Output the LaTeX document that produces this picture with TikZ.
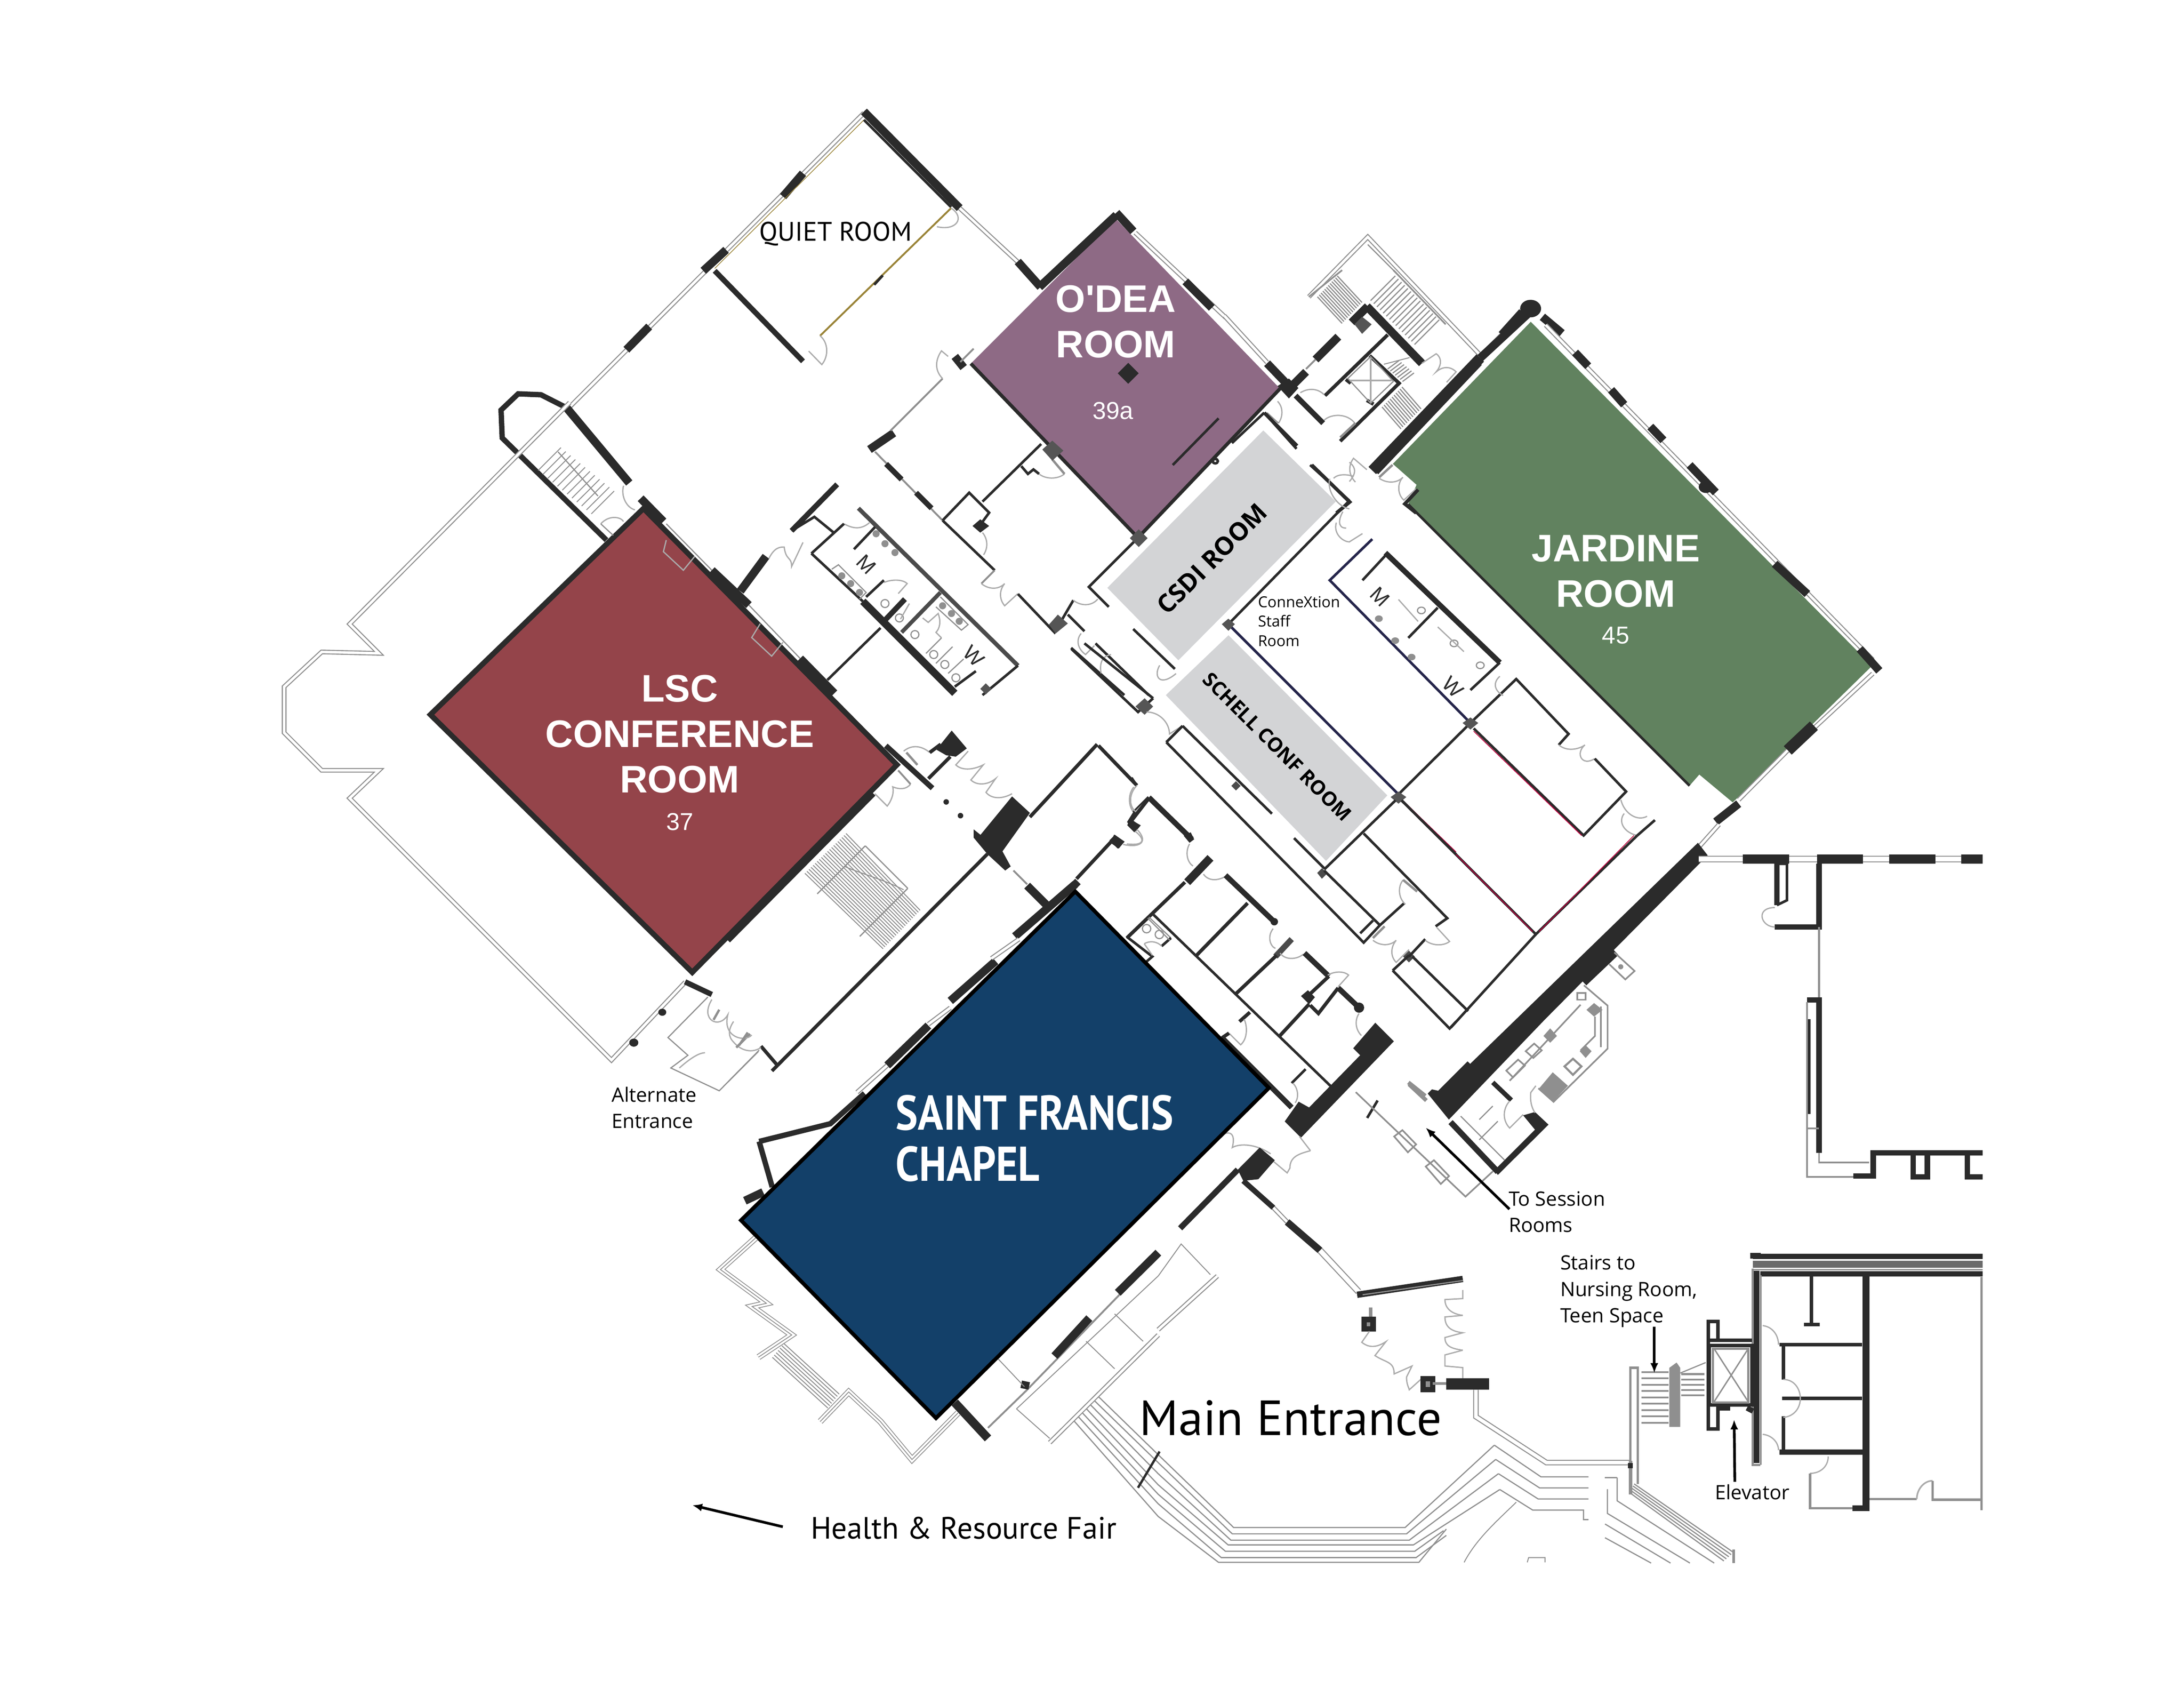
\documentclass[tikz,border=0pt]{standalone}
\usepackage{fontspec}
\setmainfont{Open Sans}
\newfontfamily\roomfont{Liberation Sans}
\newfontfamily\signfont{PT Sans}
\usetikzlibrary{arrows.meta}
\definecolor{walldark}{HTML}{2B2B2B}
\definecolor{linegray}{HTML}{8F8F8F}
\definecolor{doorgray}{HTML}{ABABAB}
\definecolor{lscred}{HTML}{94444A}
\definecolor{odeaplum}{HTML}{8E6A85}
\definecolor{jardinegreen}{HTML}{61825F}
\definecolor{chapelblue}{HTML}{134069}
\definecolor{annexgray}{HTML}{D3D4D6}
\definecolor{quietgold}{HTML}{9A8438}
\tikzset{>={Latex[width=2.4mm,length=3mm]}}
\tikzset{
  wall/.style={draw=walldark, line width=3pt, line join=miter},
  thinwall/.style={draw=walldark, line width=2.2pt, line join=miter},
  heavy/.style={draw=walldark, line width=4.6pt},
  pier/.style={draw=walldark, line width=7pt},
  gline/.style={draw=linegray, line width=1pt},
  fineline/.style={draw=linegray, line width=.8pt},
  door/.style={draw=doorgray, line width=1.1pt},
  glass/.style={draw=linegray, double=white, double distance=2.2pt, line width=.9pt, line join=miter},
  triple/.style={draw=linegray, line width=.7pt, line join=miter, preaction={draw=linegray, line width=5.4pt}, preaction={draw=white, line width=4pt}},
  blob/.style={fill=walldark},
  fixture/.style={draw=linegray, line width=1pt},
  fixfill/.style={fill=linegray!85},
  roomlabel/.style={text=white, font=\roomfont\bfseries\fontsize{33}{39}\selectfont, align=center, inner sep=0pt},
  roomnumber/.style={text=white, font=\roomfont\fontsize{21}{25}\selectfont, inner sep=0pt},
  planlabel/.style={text=black, font=\fontsize{17}{22.7}\selectfont, align=left, inner sep=0pt},
  signlabel/.style={text=black, font=\signfont, inner sep=0pt},
  restlabel/.style={text=walldark, font=\roomfont\fontsize{18}{18}\selectfont, inner sep=0pt, rotate=-45},
  northwing/.style={shift={(190,59.4)}, xscale=.409, yscale=.3333},
  westrooms/.style={shift={(594,249.5)}, scale=.1591},
  eastwing/.style={shift={(712.8,190)}, xscale=.4697, yscale=.394},
  stairtower/.style={shift={(879,154.4)}, scale=.1364},
  lobby/.style={shift={(522.7,475.2)}, scale=.197},
  southrooms/.style={shift={(784,558.3)}, scale=.1667},
  kitchen/.style={shift={(997.8,653.4)}, scale=.1212},
  entrance/.style={shift={(831.5,784)}, xscale=.197, yscale=.2273},
  eastblock/.style={shift={(997.8,594)}, xscale=.288, yscale=.3485},
  liftblock/.style={shift={(1152.3,891)}, xscale=.1742, yscale=.1515},
  chapelsouth/.style={shift={(475.2,855.3)}, xscale=.2273, yscale=.1515},
  chapelwest/.style={shift={(403.9,570.2)}, xscale=.409, yscale=.3638}
}
\begin{document}
\begin{tikzpicture}[x=.42092mm, y=-.42092mm]
    \useasboundingbox (0,0) rectangle (1568,1211.6);

    %Rooms
    \fill[lscred] (462,365) -- (644,549) -- (497,698) -- (309,513) -- cycle;
    \fill[odeaplum] (801,157) -- (919,279) -- (817,386) -- (697,261) -- cycle;
    \fill[jardinegreen] (1099,231) -- (1344,478) -- (1244,576) -- (1220,556) -- (1213,564) -- (1011,362) -- (1017,348) -- (1000,333) -- cycle;
    \draw[heavy] (462,365) -- (309,513) -- (497,698) -- (644,549) -- cycle;
    \draw[wall] (697,261) -- (817,386);
    \draw[wall] (817,386) -- (919,279);
    \draw[thinwall] (1011,362) -- (1213,564);
    \fill[walldark] (810,260.5) -- (817.5,268) -- (810,275.5) -- (802.5,268) -- cycle;
    \draw[glass] (815,167) -- (880,228);
    \draw[pier] (851,202) -- (870,221);

    %North wing and quiet room
    \begin{scope}[northwing]
        \draw[glass] (1052,65) -- (530,705);
        \draw[pier] (1052,62) -- (1220,270);
        \draw[glass] (1220,270) -- (1330,395);
        \draw[pier] (1322,385) -- (1362,440);
        \draw[pier] (1360,440) -- (1495,285);
        \draw[pier] (1495,280) -- (1525,320);
        \draw[pier] (910,245) -- (945,195);
        \draw[pier] (770,405) -- (810,360);
        \draw[pier] (635,575) -- (675,525);
        \draw[heavy] (790,405) -- (945,600);
        \draw[draw=quietgold, line width=.6pt] (1052,80) -- (790,400);
        \draw[thinwall] (1052,80) -- (1205,268);
        \draw[draw=quietgold, line width=1.6pt] (975,545) -- (1205,270);
        \draw[thinwall] (1070,435) -- (1085,415);
        \draw[door] (955,578) -- (978,607) .. controls (990,590) and (990,560) .. (975,545);
        \draw[door] (1205,270) .. controls (1230,290) and (1215,320) .. (1180,310);
        %Stair tower
        \draw[pier] (530,700) -- (640,862);
        \draw[heavy] (530,700) -- (485,672) -- (445,670) -- (415,705) -- (417,765) -- (600,985);
        \foreach \t in {0,...,11}
            \draw[fineline] ({480+\t*8.5},{835+\t*8.5}) -- ({520+\t*8.5},{786+\t*8.5});
        \draw[gline] (515,795) -- (585,890);
        \draw[door] (630,868) .. controls (625,890) and (635,915) .. (650,920);
        \draw[door] (590,950) .. controls (605,930) and (625,935) .. (630,945);
        \draw[gline] (590,950) -- (612,975);
        %Doors along the conference room
        \draw[pier] (660,895) -- (700,945);
        \draw[gline] (705,950) -- (785,1050);
        \draw[door] (705,985) -- (700,1010) -- (735,1050) -- (755,1020);
        \draw[door] (870,1165) -- (855,1195) -- (890,1235) -- (910,1205);
        \draw[pier] (785,1050) -- (850,1125);
        \draw[gline] (850,1125) -- (940,1240);
        \draw[pier] (940,1240) -- (1000,1315);
        \draw[pier] (835,1095) -- (880,1020);
        \draw[door] (885,1025) .. controls (895,1000) and (905,1000) .. (912,1000) .. controls (915,1030) and (925,1020) .. (925,1042) -- (945,990);
        \draw[heavy] (925,965) -- (1005,865);
        \draw[thinwall] (925,965) -- (965,935) -- (1000,970);
    \end{scope}

    %Terrace outline west of the conference room
    \draw[glass] (409,289) -- (251,448) -- (272,469) -- (231,468) -- (204,493) -- (204,526) -- (231,553) -- (272,553) -- (251,573) -- (439,761) -- (492,705);

    %Rooms between the quiet room and the CSDI room
    \begin{scope}[westrooms]
        \draw[pier] (190,460) -- (300,385);
        \draw[gline, line width=1.6pt] (285,375) -- (520,140);
        \draw[door] (520,140) .. controls (480,100) and (490,50) .. (515,15) -- (545,40);
        \draw[pier] (575,40) -- (615,90);
        \draw[gline, line width=1.6pt] (600,65) -- (660,5);
        \draw[gline, line width=1.6pt] (215,470) -- (520,780);
        \draw[heavy] (265,525) -- (335,595);
        \draw[heavy] (400,655) -- (470,725);
        \draw[thinwall] (520,780) -- (640,655) -- (730,745) -- (690,800);
        \draw[thinwall] (700,695) -- (965,435);
        \draw[thinwall] (875,535) -- (905,570) -- (930,550) -- (955,570);
        \draw[door] (955,570) .. controls (985,595) and (1040,595) .. (1070,570);
        \draw[gline, line width=2pt] (1015,505) -- (1070,570);
        \fill[walldark] (690,775) -- (730,805) -- (690,835) -- (655,805) -- cycle;
        \fill[walldark!80] (1015,420) -- (1065,465) -- (1015,510) -- (970,460) -- cycle;
        \draw[door] (700,835) .. controls (725,865) and (725,905) .. (705,935);
        \draw[thinwall] (520,780) -- (755,1005);
        \draw[gline, line width=1.6pt] (755,1005) -- (695,1065);
        \draw[door] (695,1065) .. controls (725,1090) and (770,1095) .. (800,1065) .. controls (775,1095) and (775,1135) .. (800,1165) -- (860,1110);
        \draw[thinwall] (860,1112) -- (1025,1285) -- (1110,1140);
        \fill[walldark!80] (1040,1205) -- (1085,1245) -- (1030,1290) -- (1000,1250) -- cycle;
        \draw[door] (1110,1140) .. controls (1140,1165) and (1190,1170) .. (1220,1135);
        \draw[thinwall] (1270,1170) -- (1180,1080) -- (1400,860);
        \fill[walldark!80] (1405,820) -- (1445,860) -- (1405,900) -- (1365,860) -- cycle;
        \draw[thinwall] (1085,1205) -- (1160,1280);
        \draw[door] (1145,1290) .. controls (1120,1320) and (1130,1360) .. (1165,1385) -- (1205,1345);
        \draw[thinwall] (1100,1355) -- (1340,1568);
        \draw[thinwall] (1210,1335) -- (1450,1568);
        \draw[thinwall] (1380,1270) -- (1568,1450);
        \draw[door] (1235,1470) .. controls (1225,1410) and (1250,1390) .. (1280,1385);
        %Restroom block
        \draw[draw=walldark!85, line width=3.6pt] (140,725) -- (860,1435);
        \draw[thinwall] (860,1435) -- (700,1568);
        \draw[door] (190,790) .. controls (150,825) and (110,815) .. (75,795);
        \draw[thinwall] (-72,929) -- (75,795);
        \draw[thinwall] (215,810) -- (120,910);
        \draw[thinwall] (-72,929) -- (160,1145);
        \draw[draw=walldark, line width=6.4pt] (160,1145) -- (575,1560);
        \draw[thinwall] (175,1125) -- (255,1050);
        \draw[door] (255,1060) .. controls (290,1045) and (340,1045) .. (360,1065) -- (320,1110);
        \draw[heavy] (260,1230) -- (350,1135);
        \draw[draw=walldark!85, line width=3.4pt] (335,1285) -- (510,1105);
        \draw[thinwall] (575,1530) -- (670,1460);
        \draw[thinwall] (240,1265) -- (0,1500);
        \fill[walldark!80] (715,1515) -- (740,1540) -- (715,1565) -- (690,1540) -- cycle;
        \draw[fixture] (20,1000) -- (50,980) -- (175,1105) -- (145,1135);
        \draw[fixture] (510,1125) -- (635,1250) -- (605,1275) -- (490,1170);
        \foreach \cx/\cy in {65/1030, 105/1065, 145/1105, 520/1165, 560/1200, 595/1235, 220/840, 260/885, 305/925}
            \fill[linegray] (\cx,\cy) circle (16);
        \foreach \cx/\cy in {260/1155, 325/1220, 395/1295, 480/1385, 530/1430, 580/1490}
            \draw[fixture] (\cx,\cy) circle (18);
        \draw[door] (430,1220) -- (455,1240) -- (500,1200) .. controls (515,1240) and (505,1270) .. (490,1285) -- (515,1310);
        \draw[gline] (515,1310) -- (445,1380);
        \draw[gline] (565,1350) -- (490,1425);
        \draw[gline] (615,1405) -- (545,1470);
        \draw[door] (370,1155) -- (330,1225);
    \end{scope}

    %Stair tower and elevator north of the Jardine room
    \begin{scope}[stairtower]
        \draw[glass] (445,430) -- (755,115) -- (1345,735);
        \draw[gline] (755,155) -- (915,315);
        \draw[gline, line width=1.4pt] (890,290) -- (1165,575);
        \draw[gline, line width=1.4pt] (445,430) -- (620,290);
        \foreach \t in {0,...,11}
            \draw[fineline, line width=1pt] ({490+\t*9.5},{430-\t*10}) -- ({620+\t*9.5},{570-\t*10});
        \foreach \t in {0,...,14}
            \draw[fineline, line width=1pt] ({770+\t*16.5},{450+\t*16.5}) -- ({900+\t*16.5},{320+\t*16.5});
        \foreach \t in {0,...,10}
            \draw[fineline, line width=1pt] ({830+\t*10.5},{1010-\t*10.5}) -- ({930+\t*10.5},{1125-\t*10.5});
        \foreach \t in {0,...,6}
            \draw[fineline, line width=1pt] ({860+\t*13},{810+\t*11}) -- ({920+\t*13},{765+\t*11});
        \draw[fineline] (840,785) -- (975,750);
        \draw[pier] (750,480) -- (1040,780);
        \draw[pier] (755,480) -- (670,565);
        \fill[walldark!80] (725,535) -- (775,575) -- (725,625) -- (685,575) -- cycle;
        \draw[pier] (600,640) -- (480,760);
        \draw[gline, line width=1.6pt] (480,760) -- (430,810);
        \draw[pier] (430,825) -- (350,905);
        \draw[pier] (225,780) -- (340,900);
        \draw[glass] (0,530) -- (225,775);
        \fill[walldark] (340,860) -- (390,910) -- (340,965) -- (280,900) -- cycle;
        \draw[wall] (860,630) -- (530,950);
        \draw[wall] (765,740) -- (920,885) -- (610,1190);
        \draw[wall] (640,865) -- (665,885);
        \draw[wall] (750,975) -- (785,995);
        \draw[fixture] (650,860) -- (770,745) -- (890,875) -- (770,990) -- cycle;
        \draw[fixture, draw=doorgray, line width=1.5pt] (660,870) -- (880,870);
        \draw[fixture, draw=doorgray, line width=1.5pt] (770,750) -- (770,985);
        \draw[heavy] (375,950) -- (520,1095);
        \draw[door] (400,935) .. controls (440,910) and (490,910) .. (525,945);
        \draw[door] (525,1080) .. controls (560,1045) and (650,1040) .. (690,1100);
        \draw[gline, line width=2pt] (690,1095) -- (610,1170);
        \draw[thinwall] (210,1040) -- (380,1230);
        \draw[thinwall] (40,1200) -- (210,1040);
        \draw[door] (280,980) .. controls (310,1010) and (310,1060) .. (285,1095);
        \draw[gline] (285,1095) -- (225,1040);
        \draw[draw=walldark, line width=9pt] (1335,770) -- (790,1345);
        \draw[glass] (1345,745) -- (1460,630);
        \draw[pier] (1460,630) -- (1568,510);
        \draw[door] (1040,780) -- (1115,730) .. controls (1145,750) and (1145,790) .. (1115,825) .. controls (1150,795) and (1190,795) .. (1220,825) -- (1170,880);
        \draw[door] (750,1340) -- (680,1280) .. controls (650,1320) and (655,1370) .. (690,1405);
        \draw[door] (575,1385) .. controls (600,1360) and (650,1365) .. (680,1375);
        \draw[door] (815,1385) .. controls (850,1410) and (905,1415) .. (940,1380) .. controls (910,1410) and (910,1470) .. (945,1500) -- (1010,1440);
        \draw[gline, line width=2pt] (815,1380) -- (885,1315);
        \draw[wall] (1020,1445) -- (950,1520) -- (1010,1568);
        \draw[wall] (460,1315) -- (660,1510) -- (590,1568);
    \end{scope}

    %East wing rooms
    \begin{scope}[eastwing]
        \fill[walldark] (822,80) circle (16);
        \draw[pier] (822,85) -- (745,170);
        \draw[draw=walldark, line width=9pt] (745,170) -- (580,375);
        \draw[pier] (840,95) -- (870,125);
        \draw[glass] (845,110) -- (1345,720);
        \foreach \xa/\ya/\xb/\yb in {890/160/910/185, 945/228/965/255, 1005/295/1025/320, 1065/365/1105/415, 1195/545/1245/600, 1325/700/1355/740}
            \draw[pier] (\xa,\ya) -- (\xb,\yb);
        \fill[walldark] (1090,405) circle (11);
        \draw[glass] (1345,745) -- (1250,850);
        \draw[draw=walldark, line width=10pt] (1215,885) -- (1255,840);
        \draw[glass] (1215,885) -- (1140,975);
        \draw[pier] (1105,1015) -- (1140,982);
        \draw[glass] (1110,1020) -- (1080,1060);
        %ConneXtion room
        \draw[thinwall] (545,430) -- (360,655);
        \draw[thinwall, draw=walldark!85!blue] (360,655) -- (620,965);
        \draw[thinwall] (620,965) -- (730,835);
        \draw[thinwall, draw=walldark!85!blue] (730,835) -- (515,575) -- (580,500);
        \draw[heavy] (600,525) -- (775,725);
        \draw[thinwall] (565,575) -- (600,530);
        \draw[thinwall] (680,625) -- (635,680);
        \draw[thinwall] (775,725) -- (730,775);
        \draw[door] (525,470) .. controls (520,490) and (535,505) .. (545,505) -- (565,490);
        \foreach \cx/\cy in {590/645, 615/685, 640/715}
            \fill[linegray] (\cx,\cy) circle (6);
        \foreach \cx/\cy in {655/630, 705/690, 745/730}
            \draw[fixture] (\cx,\cy) circle (6);
        \draw[door] (620,610) -- (650,650);
        \draw[door] (680,660) -- (720,705);
        \node[restlabel] (mensroomb) at (592,605) {M};
        \node[restlabel] (womensroomb) at (703,770) {W};
        %East rooms
        \draw[thinwall] (730,835) -- (800,755) -- (880,855) -- (865,875);
        \draw[door] (865,875) .. controls (880,890) and (900,880) .. (905,875) .. controls (890,890) and (900,915) .. (920,900);
        \draw[thinwall] (920,900) -- (968,960) -- (903,1040) -- (735,845);
        \draw[door] (775,750) .. controls (765,760) and (765,775) .. (780,785);
        \draw[door] (960,975) .. controls (965,1000) and (985,1015) .. (1000,1005);
        \draw[door] (965,1000) .. controls (955,1015) and (965,1035) .. (985,1040);
        \draw[thinwall] (620,970) -- (830,1220) -- (985,1040);
        \draw[draw=purple, line width=.7pt] (625,975) -- (825,1215);
        \draw[draw=purple, line width=.7pt] (835,1215) -- (980,1040);
        \draw[draw=purple, line width=.7pt] (735,850) -- (900,1040);
        \draw[thinwall] (985,1040) -- (1012,1012);
        \draw[thinwall] (830,1220) -- (700,1390);
        \fill[walldark!80] (620,960) -- (632,970) -- (620,982) -- (608,970) -- cycle;
        \fill[walldark!80] (730,825) -- (742,835) -- (730,847) -- (718,835) -- cycle;
        \fill[walldark!80] (360,645) -- (370,655) -- (360,667) -- (350,655) -- cycle;
        %O'Dea fittings
        \draw[thinwall] (275,365) -- (345,280);
        \draw[thinwall] (340,358) circle (4);
        %Around the CSDI room
        \draw[wall] (415,270) -- (465,330);
        \draw[thinwall] (485,365) -- (545,430);
        \draw[door] (515,390) .. controls (510,410) and (525,440) .. (545,445);
        \draw[door] (545,395) .. controls (560,375) and (550,365) .. (545,360);
        \draw[door] (540,480) .. controls (525,480) and (530,460) .. (535,450);
        %Small room west of the annex
        \draw[thinwall] (120,700) -- (222,815) -- (245,790);
        \draw[thinwall] (140,690) -- (245,790);
        \fill[walldark!80] (232,790) -- (245,805) -- (232,820) -- (218,805) -- cycle;
        \draw[door] (255,730) .. controls (245,750) and (255,770) .. (280,745);
        \draw[door] (235,815) .. controls (255,815) and (270,835) .. (270,855) -- (290,840);
    \end{scope}

    %Corridor below the Schell room
    \begin{scope}[southrooms]
        \draw[thinwall] (320,-153) -- (1170,710) -- (1240,635);
        \draw[thinwall] (320,-153) -- (390,-223);
        \draw[thinwall] (1155,670) -- (1210,615);
        \draw[thinwall] (390,-223) -- (775,155);
        \draw[thinwall] (870,260) -- (1000,390);
        \fill[walldark!85] (990,390) -- (1015,410) -- (990,435) -- (970,410) -- cycle;
        \fill[walldark!85] (620,15) -- (640,35) -- (620,55) -- (600,35) -- cycle;
        \draw[thinwall] (1000,395) -- (1320,85);
        \draw[thinwall] (1000,400) -- (1240,635);
        \draw[thinwall] (1170,240) -- (1530,605) -- (1480,640);
        \draw[draw=purple, line width=.7pt] (1340,100) -- (1568,320);
        \draw[thinwall] (1320,85) -- (1568,330);
        \draw[thinwall] (1240,635) -- (1345,540);
        \fill[walldark!80] (1320,60) -- (1345,85) -- (1320,110) -- (1295,85) -- cycle;
        \draw[door] (1340,440) .. controls (1315,470) and (1320,520) .. (1350,545);
        \draw[gline, line width=2pt] (1340,440) -- (1400,490);
        \draw[door] (1210,700) .. controls (1240,725) and (1285,725) .. (1310,700) .. controls (1285,730) and (1285,770) .. (1310,795) -- (1365,740);
        \draw[gline, line width=2pt] (1210,690) -- (1260,640);
        \fill[walldark!85] (1365,745) -- (1390,770) -- (1365,795) -- (1340,770) -- cycle;
        \draw[thinwall] (1365,770) -- (1435,695);
        \draw[door] (1435,700) .. controls (1465,725) and (1515,725) .. (1540,705) -- (1485,645);
        \draw[thinwall] (1295,830) -- (1365,765);
        \draw[thinwall] (1295,830) -- (1540,1080) -- (1568,1050);
        \draw[thinwall] (1380,770) -- (1620,1005);
        %Small offices
        \draw[door] (180,40) .. controls (155,70) and (155,120) .. (180,150);
        \draw[thinwall] (170,0) -- (190,30);
        \draw[wall] (180,150) -- (245,85);
        \draw[heavy] (245,85) -- (430,265);
        \fill[walldark] (425,235) -- (440,265) -- (420,280) -- (395,250) -- cycle;
        \draw[wall] (185,150) -- (160,190) -- (185,225);
        \fill[walldark] (165,180) -- (210,205) -- (185,235) -- (155,205) -- cycle;
        \draw[door] (185,230) .. controls (225,260) and (235,295) .. (150,285);
        \fill[walldark] (95,245) -- (140,275) -- (115,305) -- (80,280) -- cycle;
        \draw[door] (420,285) .. controls (400,320) and (410,365) .. (435,380);
        \draw[draw=walldark, line width=7pt] (510,345) -- (410,450);
        \draw[door] (480,415) .. controls (500,445) and (540,445) .. (575,425);
        \draw[wall] (400,450) -- (150,690);
        \draw[heavy] (575,420) -- (790,625);
        \fill[walldark] (785,620) circle (16);
        \draw[wall] (670,540) -- (450,765);
        \draw[thinwall] (265,590) -- (1030,1330);
        \draw[gline] (245,600) -- (340,690);
        \draw[thinwall] (340,690) -- (300,725);
        \draw[door] (780,650) .. controls (755,680) and (765,725) .. (790,735);
        \draw[draw=walldark!85, line width=5pt] (860,695) -- (790,770);
        \draw[wall] (795,765) -- (620,930);
        \draw[door] (810,755) .. controls (830,785) and (880,785) .. (910,760);
        \draw[heavy] (915,755) -- (1020,855);
        \draw[wall] (1020,855) -- (940,930);
        \fill[walldark] (930,915) -- (960,945) -- (935,975) -- (900,940) -- cycle;
        \draw[wall] (935,975) -- (810,1110);
        \draw[wall] (940,980) -- (975,1015) -- (1060,905);
        \draw[heavy] (1060,905) -- (1150,990);
        \fill[walldark] (1150,990) circle (22);
        \draw[door] (1015,850) .. controls (1050,830) and (1090,835) .. (1105,850) -- (1060,900);
        \draw[door] (1150,1015) .. controls (1130,1045) and (1135,1085) .. (1160,1110);
        \draw[wall] (680,1010) -- (635,1050);
        \draw[door] (655,1040) .. controls (670,1070) and (670,1125) .. (640,1150) -- (590,1100);
        \draw[wall] (560,1120) -- (590,1100);
        \draw[heavy] (560,1120) -- (860,1420);
        \draw[thinwall] (920,1255) -- (860,1315);
        \draw[door] (865,1315) .. controls (890,1340) and (890,1380) .. (875,1400);
        \fill[walldark] (1220,1055) -- (1300,1135) -- (900,1550) -- (830,1480) -- (890,1395) -- (935,1420) -- (1155,1195) -- (1125,1165) -- cycle;
        \draw[thinwall] (150,685) -- (260,770) -- (225,800);
        \draw[gline] (240,605) -- (335,700);
        \foreach \cx/\cy in {235/650, 290/675}
            \draw[fixture] (\cx,\cy) circle (18);
        \draw[door] (225,715) .. controls (250,700) and (280,705) .. (300,725);
        \draw[door] (225,715) -- (260,765);
        \draw[gline, line width=3.4pt] (1365,1320) -- (1440,1390);
        \draw[thinwall] (1185,1465) -- (1230,1390);
    \end{scope}

    %Lobby between the conference room and the chapel
    \begin{scope}[lobby]
        \draw[heavy] (575,305) -- (745,460);
        \draw[door] (640,325) .. controls (670,300) and (705,305) .. (735,330);
        \draw[gline, line width=2pt] (650,330) -- (690,375);
        \draw[heavy] (530,480) -- (0,1015);
        \draw[door] (535,480) -- (580,525) .. controls (600,500) and (605,470) .. (600,455) .. controls (625,465) and (650,465) .. (665,445);
        \draw[gline, line width=1.6pt] (620,395) -- (665,445);
        \fill[walldark] (775,300) -- (815,250) -- (870,315) -- (830,345) -- (795,340) -- (760,320) -- cycle;
        \draw[wall] (735,330) -- (775,300);
        \draw[wall] (810,345) -- (730,425);
        \draw[door] (875,325) -- (830,375) .. controls (850,395) and (890,395) .. (930,375) -- (885,430) .. controls (905,450) and (945,450) .. (975,425) -- (940,475) .. controls (960,500) and (1000,500) .. (1035,480);
        \fill[walldark] (795,510) circle (10);
        \fill[walldark] (847,560) circle (10);
        \fill[walldark] (895,610) -- (920,630) -- (1035,490) -- (1100,550) -- (1000,690) -- (1030,745) -- (1010,760) -- (945,700) -- (895,640) -- cycle;
        \foreach \t in {0,...,20}
            \draw[fineline] ({430-\t*7.5},{625+\t*7.25}) -- ({700-\t*6.75},{905+\t*7});
        \draw[gline] (500,670) -- (325,845);
        \draw[gline] (655,825) -- (480,1000);
        \draw[gline] (500,670) -- (655,825);
        \draw[fineline] (425,745) .. controls (480,770) and (560,790) .. (640,830);
        \draw[wall] (945,700) -- (180,1470);
        \draw[wall] (180,1470) -- (120,1400);
        \draw[wall] (180,1470) -- (160,1490);
        \draw[door] (120,1405) .. controls (90,1425) and (50,1420) .. (20,1385) .. controls (0,1365) and (0,1340) .. (20,1310);
        \draw[gline, line width=2pt] (80,1355) -- (30,1405);
        \draw[gline] (110,1420) -- (0,1530);
        \draw[gline, line width=1.6pt] (1040,760) -- (1090,810);
        \draw[pier] (1090,815) -- (1160,885);
        \draw[pier] (1045,1000) -- (1265,810);
        \draw[pier] (810,1235) -- (975,1090);
        \draw[pier] (580,1470) -- (730,1325);
        \draw[glass] (730,1320) -- (810,1260);
        \draw[glass] (960,1080) -- (1060,1010);
        \draw[glass] (470,1568) -- (580,1470);
        \draw[wall] (1345,300) -- (1100,565);
        \draw[wall] (1350,305) -- (1490,450);
        \draw[door] (1490,450) .. controls (1460,480) and (1460,525) .. (1485,545) -- (1535,495);
        \draw[wall] (1535,495) -- (1465,585);
        \fill[walldark] (1465,570) -- (1500,595) -- (1480,620) -- (1455,595) -- cycle;
        \draw[door] (1490,610) .. controls (1530,650) and (1510,680) .. (1440,665);
        \fill[walldark] (1410,630) -- (1445,655) -- (1420,680) -- (1390,650) -- cycle;
        \draw[wall] (1410,640) -- (1270,790);
        \fill[walldark] (1265,790) -- (1285,810) -- (1260,835) -- (1240,815) -- cycle;
    \end{scope}

    %Stairs by the conference room and alternate entrance
    \begin{scope}[chapelwest]
        \draw[heavy] (215,370) -- (262,395);
        \draw[gline] (255,400) -- (185,480) -- (220,515) -- (190,540) -- (275,585) -- (345,505);
        \draw[door] (262,405) .. controls (240,445) and (275,465) .. (290,435) .. controls (280,480) and (320,490) .. (332,475);
        \draw[gline, line width=2pt] (275,425) -- (265,445);
        \draw[gline, line width=2pt] (325,470) -- (310,495);
        \fill[walldark] (175,430) circle (7);
        \fill[walldark] (125,490) circle (8);
        \draw[door] (205,540) .. controls (225,520) and (240,510) .. (250,510);
        %Chapel annex
        \draw[heavy] (345,685) -- (470,650) -- (530,590);
        \draw[heavy] (345,685) -- (368,775);
        \draw[pier] (320,802) -- (352,785);
    \end{scope}

    %Kitchen and the long east wall
    \fill[walldark] (1025,785) -- (1028,782) -- (1032.5,783) -- (1053.6,761.9) -- (1055.5,763.7) -- (1219,605) -- (1226,614) -- (1109,732) -- (1040.2,803.7) -- cycle;
    \begin{scope}[kitchen]
        \draw[draw=walldark, line width=6pt] (1150,430) -- (1340,250);
        \draw[gline, line width=1.4pt] (1330,250) -- (1450,360) -- (1395,410) -- (1300,320);
        \fill[linegray] (1368,335) circle (15);
        \draw[gline, line width=1.4pt] (1150,445) -- (1290,565) -- (1290,820) -- (970,1135) -- (880,1055);
        \draw[gline, line width=1.4pt] (1250,570) -- (1250,810);
        \draw[gline, line width=1.4pt] (1215,630) -- (1215,745) -- (1130,830);
        \draw[gline, line width=1.4pt] (1130,560) -- (710,1010);
        \fill[linegray] (1210,550) -- (1260,590) -- (1210,630) -- (1165,590) -- cycle;
        \fill[linegray] (950,700) -- (990,745) -- (950,785) -- (910,745) -- cycle;
        \fill[linegray] (1160,800) -- (1195,835) -- (1160,875) -- (1125,835) -- cycle;
        \fill[linegray] (965,960) -- (1055,1040) -- (965,1135) -- (885,1055) -- cycle;
        \draw[gline, line width=1.8pt] (1085,880) -- (1135,925) -- (1085,975) -- (1035,925) -- cycle;
        \draw[gline, line width=1.4pt] (855,790) -- (900,830) -- (850,875) -- (805,835) -- cycle;
        \draw[gline, line width=1.4pt] (1110,490) -- (1160,490) -- (1160,530) -- (1110,530) -- cycle;
        \draw[gline, line width=1.4pt] (760,885) -- (800,920) -- (730,990) -- (690,950) -- cycle;
        \draw[draw=walldark, line width=4pt] (610,1020) -- (720,1125);
        \draw[draw=walldark, line width=5pt] (360,1255) -- (640,1550);
        \fill[walldark] (790,1215) -- (860,1195) -- (940,1270) -- (640,1568) -- (620,1540) -- (860,1300) -- cycle;
        \draw[gline] (420,1220) -- (680,1480);
        \draw[gline] (530,1360) -- (640,1250);
        \draw[gline] (610,1160) -- (530,1240);
        \draw[door] (710,1130) .. controls (665,1180) and (670,1250) .. (710,1290) -- (790,1210);
        \draw[door] (865,1040) -- (835,1080) .. controls (830,1130) and (840,1170) .. (860,1200);
        \draw[gline, line width=3.5pt] (110,1020) -- (210,1100);
    \end{scope}

    %East rooms block
    \begin{scope}[eastblock]
        \draw[glass, double distance=4pt] (770,65) -- (1478,65);
        \foreach \xa/\xb in {880/995, 1065/1180, 1245/1360, 1425/1478}
            \draw[draw=walldark, line width=8pt] (\xa,65) -- (\xb,65);
        \draw[heavy] (1070,75) -- (1070,205) -- (960,205);
        \draw[heavy] (965,75) -- (965,160);
        \draw[thinwall] (965,75) -- (990,75) -- (990,150) -- (965,160);
        \draw[door] (960,165) .. controls (910,165) and (925,205) .. (960,205);
        \draw[gline, line width=1.6pt] (1070,205) -- (1070,350);
        \draw[heavy] (1040,355) -- (1070,355) -- (1070,670);
        \draw[wall] (1045,395) -- (1045,590);
        \draw[gline, line width=1.4pt] (1040,360) -- (1040,620) -- (1070,620);
        \draw[gline, line width=1.4pt] (1040,620) -- (1040,720) -- (1195,720);
        \draw[gline, line width=1.4pt] (1070,670) -- (1070,690) -- (1195,690);
        \draw[heavy] (1155,718) -- (1205,718) -- (1205,670) -- (1478,670);
        \draw[heavy] (1305,670) -- (1305,720) -- (1340,720) -- (1340,670);
        \draw[heavy] (1440,670) -- (1440,720) -- (1478,720);
    \end{scope}

    %Long corner by the entrance
    \begin{scope}[entrance]
        \draw[door] (225,140) .. controls (255,120) and (285,125) .. (270,175) .. controls (300,160) and (360,165) .. (410,195);
        \draw[door] (555,185) -- (515,140);
        \draw[door] (555,185) .. controls (510,195) and (480,205) .. (480,240) -- (470,255) -- (415,215);
        \fill[walldark] (370,175) -- (425,215) -- (365,275) -- (310,280) -- (290,245) -- cycle;
        \draw[draw=walldark, line width=5pt] (80,430) -- (290,245);
        \draw[heavy] (310,280) -- (420,365);
        \draw[glass] (420,365) -- (470,410);
        \draw[draw=walldark, line width=6pt] (470,410) -- (590,500);
        \draw[glass, double distance=4pt] (590,500) -- (730,630);
        \draw[draw=walldark, line width=5.4pt] (725,640) -- (1110,590);
        \draw[draw=linegray, line width=1pt] (745,640) -- (1110,595);
        \draw[gline, line width=3pt] (775,680) -- (775,720);
        \draw[heavy, fill=linegray] (750,718) rectangle (783,748);
        \draw[door] (770,755) -- (742,790) .. controls (770,810) and (800,805) .. (830,788) -- (790,832) .. controls (830,855) and (860,850) .. (860,890) -- (925,865) -- (905,900) .. controls (905,925) and (915,935) .. (915,940) -- (960,905);
        \draw[door] (1110,625) -- (1110,652) -- (1045,655) .. controls (1045,680) and (1065,700) .. (1110,705);
        \draw[door] (1110,705) -- (1045,710) .. controls (1045,740) and (1065,755) .. (1110,760) -- (1045,775) .. controls (1045,800) and (1065,810) .. (1110,815);
        \draw[door] (1110,815) -- (1045,830) -- (1045,865) -- (1110,870) -- (1110,905);
        \draw[heavy, fill=linegray] (965,905) rectangle (1000,940);
        \draw[gline, line width=2.4pt] (1000,920) -- (1050,920);
        \fill[walldark] (1050,903) rectangle (1205,940);
        \draw[glass, double distance=3pt] (1158,940) -- (1158,1025) -- (1415,1170) -- (1723,1170);
        %Gray line by the session room corridor
        \draw[gline, line width=1.4pt] (720,0) -- (1120,330) -- (1220,250);
        \draw[gline, line width=1.4pt] (860,140) -- (890,120) -- (940,165) -- (910,190) -- cycle;
        \draw[gline, line width=1.4pt] (975,235) -- (1005,215) -- (1060,265) -- (1030,290) -- cycle;
        %Entrance steps
        \foreach \t/\ya/\xb/\yb/\xc/\xd/\yd in {0/1145/275/1375/900/1225/1115, 1/1170/270/1395/905/1230/1160, 2/1205/265/1415/915/1240/1205, 3/1240/255/1430/930/1245/1255}
            \draw[fineline, line width=1pt] ({-216-\t*15},{963+\t*12.5}) -- (0,\ya) -- (\xb,\yb) -- (\xc,\yb) -- (\xd,\yd);
        \draw[fineline, line width=1pt] (1225,1115) -- (1395,1215) -- (1568,1215);
        \draw[fineline, line width=1pt] (1230,1160) -- (1390,1250) -- (1568,1250);
        \draw[fineline, line width=1pt] (1240,1205) -- (1385,1285) -- (1568,1285);
        \draw[fineline, line width=1pt] (1245,1255) -- (1365,1320) -- (1550,1320) -- (1550,1350) -- (1568,1350);
        \draw[fineline, line width=1pt] (-276,1013) -- (0,1270) -- (245,1450) -- (935,1450) -- (1040,1385);
        \draw[fineline, line width=1pt] (-291,1025) -- (0,1300) -- (230,1470) -- (940,1470) -- (1050,1400);
        \draw[fineline, line width=1pt] (-307,1038) -- (0,1340) -- (220,1485) -- (950,1485) -- (1050,1380);
        \draw[fineline] (1115,1485) .. controls (1160,1410) and (1240,1350) .. (1305,1295);
        \draw[fineline] (1345,1485) -- (1350,1470) -- (1410,1470) -- (1410,1485);
    \end{scope}
    \draw[draw=walldark, line width=2pt] (832.5,1042) -- (817,1068);

    %Chapel south side and its terrace
    \begin{scope}[chapelsouth]
        \draw[triple] (300,215) -- (185,370) -- (330,530) -- (285,545) -- (410,680) -- (305,785);
        \foreach \t in {0,...,6}
            \draw[fineline] ({385-\t*6},{720+\t*11}) -- ({560-\t*6},{960+\t*11});
        \draw[triple] (500,1090) -- (590,950) -- (690,1090) -- (790,1270) -- (935,1050);
        \draw[draw=walldark, line width=7.4pt] (925,1000) -- (1030,1170);
        \draw[gline, line width=1.6pt] (1030,1120) -- (1150,945);
        \draw[gline, line width=1.6pt] (1150,945) -- (1568,300);
        \draw[pier] (1150,900) -- (1145,935);
        \draw[pier] (1240,780) -- (1350,600);
        \draw[pier] (1440,480) -- (1568,290);
        \draw[fineline] (1060,790) -- (1145,925);
        \draw[fineline] (1120,1030) -- (1225,1170);
        \draw[fineline] (1120,1030) -- (1568,400);
        \draw[fineline] (1340,710) -- (1430,840);
        \draw[fineline] (1430,580) -- (1520,710);
        \draw[glass] (1225,1190) -- (1568,680);
    \end{scope}
    \draw[glass] (831.5,954.5) -- (874,916);
    \draw[fineline] (831.6,915.9) -- (848,893) -- (869,915);

    %Right hand block with the elevator
    \begin{scope}[liftblock]
        \draw[heavy] (610,72) -- (1557,72);
        \draw[heavy] (640,155) -- (1557,155);
        \draw[draw=walldark!70, line width=6pt] (610,110) -- (1557,110);
        \draw[gline, line width=1.4pt] (610,135) -- (1557,135);
        \fill[walldark] (598,55) rectangle (642,82);
        \draw[gline, line width=1.8pt] (608,130) -- (608,1060) -- (640,1060);
        \draw[gline, line width=1.8pt] (642,160) -- (642,1060);
        \draw[draw=walldark, line width=5pt] (625,140) -- (625,1050);
        \draw[draw=walldark, line width=6pt] (1075,160) -- (1075,1270);
        \draw[draw=walldark, line width=3pt] (850,160) -- (850,395);
        \draw[draw=walldark, line width=3pt] (820,395) -- (885,395);
        \draw[wall] (720,490) -- (1060,490);
        \draw[wall] (735,490) -- (735,655);
        \draw[wall] (730,745) -- (1060,745);
        \draw[wall] (735,830) -- (735,1000);
        \draw[heavy] (720,1000) -- (1075,1000);
        \draw[door] (650,400) .. controls (690,405) and (715,445) .. (715,490);
        \draw[door] (735,655) .. controls (780,655) and (805,700) .. (805,745) .. controls (805,790) and (780,830) .. (735,835);
        \draw[door] (650,915) .. controls (690,920) and (715,955) .. (715,990);
        \draw[door] (920,1020) .. controls (920,1065) and (890,1100) .. (845,1100);
        \draw[gline, line width=2pt] (845,1100) -- (845,1265) -- (1020,1265);
        \draw[heavy] (1020,1265) -- (1090,1265);
        \draw[gline, line width=2pt] (1090,1222) -- (1285,1222);
        \draw[door, line width=1.4pt] (1285,1222) .. controls (1285,1175) and (1315,1135) .. (1350,1135);
        \draw[gline, line width=2pt] (1350,1135) -- (1350,1225) -- (1552,1225);
        \draw[gline, line width=2pt] (1552,170) -- (1552,1275);
        \draw[wall] (430,495) rectangle (605,775);
        \draw[gline, line width=1.8pt] (445,510) rectangle (590,765);
        \draw[gline, line width=1.2pt] (450,510) -- (590,760);
        \draw[gline, line width=1.2pt] (590,510) -- (450,760);
        \draw[wall] (465,470) -- (605,470);
        \draw[wall] (425,380) rectangle (465,470);
        \draw[wall] (425,470) -- (425,890) -- (465,890) -- (465,785);
        \draw[heavy] (465,790) -- (515,790);
        \draw[heavy] (585,790) -- (610,805);
        \foreach \ty in {620,650,...,860}
            \draw[gline, line width=1.6pt] (150,\ty) -- (262,\ty);
        \foreach \ty in {630,655,...,735}
            \draw[gline, line width=1.6pt] (315,\ty) -- (410,\ty);
        \fill[linegray] (265,600) -- (295,575) -- (310,600) -- (310,880) -- (265,880) -- cycle;
        \draw[gline] (310,625) -- (415,575);
        \draw[gline, line width=2pt] (105,1040) -- (105,600) -- (135,600) -- (135,1150);
        \draw[gline, line width=3pt] (105,1040) -- (105,1200);
        \fill[walldark] (95,1050) rectangle (115,1075);
        \foreach \t in {0,...,4}
            \draw[fineline, line width=1pt] ({100+\t*5},{1190-\t*10}) -- ({490+\t*10},{1515-\t*10});
        \draw[gline, line width=2pt] (530,1460) -- (530,1525);
        \draw[fineline, line width=1pt] (50,1120) -- (0,1120);
        \draw[fineline, line width=1pt] (50,1120) -- (50,1230) -- (450,1525);
        \draw[fineline, line width=1pt] (10,1175) -- (10,1290) -- (350,1525);
        \draw[fineline, line width=1pt] (0,1340) -- (270,1525);
        \draw[fineline, line width=1pt] (0,1405) -- (190,1525);
    \end{scope}

    %Filled rooms on top of the plan
    \draw[draw=black, line width=3.3pt, fill=chapelblue] (772,640) -- (911,781) -- (672,1018) -- (532,876) -- cycle;
    \fill[annexgray] (907,309) -- (959,360) -- (846,474) -- (795,422) -- cycle;
    \fill[annexgray] (882,456) -- (996,571) -- (952,618) -- (837,499) -- cycle;

    %Nodes
    \node[roomlabel] (odealabel) at (801,231) {O'DEA\\ROOM};
    \node[roomnumber] (odeanumber) at (799,295) {39a};
    \node[roomlabel] (jardinelabel) at (1160,410) {JARDINE\\ROOM};
    \node[roomnumber] (jardinenumber) at (1160,456) {45};
    \node[roomlabel] (lsclabel) at (488,527) {LSC\\CONFERENCE\\ROOM};
    \node[roomnumber] (lscnumber) at (488,590) {37};
    \node[text=white, font=\signfont\bfseries\fontsize{42}{44}\selectfont, align=left, inner sep=0pt, anchor=north west] (chapellabel) at (643,786) {\scalebox{.86}[1]{SAINT FRANCIS}\\\scalebox{.86}[1]{CHAPEL}};
    \node[text=black, font=\bfseries\fontsize{21.6}{22}\selectfont, rotate=45, inner sep=0pt] (csdilabel) at (870,401) {CSDI ROOM};
    \node[text=black, font=\bfseries\fontsize{17}{18}\selectfont, rotate=-45, inner sep=0pt] (schelllabel) at (917,536) {SCHELL CONF ROOM};
    \node[signlabel, font=\signfont\fontsize{23}{26}\selectfont] (quietlabel) at (600,168) {QUIET ROOM};
    \node[planlabel, font=\fontsize{13}{16.6}\selectfont, anchor=north west] (connexionlabel) at (903,428) {ConneXtion\\Staff\\Room};
    \node[restlabel] (mensrooma) at (622,405) {M};
    \node[restlabel] (womensrooma) at (699,471) {W};
    \node[planlabel, anchor=north west] (alternatelabel) at (439,780) {Alternate\\Entrance};
    \node[planlabel, anchor=north west] (sessionlabel) at (1083,855) {To Session\\Rooms};
    \node[planlabel, anchor=north west] (stairslabel) at (1120,901) {Stairs to\\Nursing Room,\\Teen Space};
    \node[planlabel, anchor=center] (elevatorlabel) at (1258,1071) {Elevator};
    \node[signlabel, font=\signfont\fontsize{42.5}{48}\selectfont, anchor=west] (mainlabel) at (818,1018) {Main Entrance};
    \node[signlabel, font=\signfont\fontsize{26.5}{30}\selectfont, anchor=west] (fairlabel) at (582,1097) {Health \& Resource Fair};

    %Lines
    \coordinate (fairstart) at (562,1096);
    \coordinate (fairtip) at (497,1080.5);
    \coordinate (sessionstart) at (1083.7,868);
    \coordinate (sessiontip) at (1023.6,809.5);
    \coordinate (stairsstart) at (1187.7,952.4);
    \coordinate (stairstip) at (1187.7,985.7);
    \coordinate (elevatorstart) at (1245.5,1063.7);
    \coordinate (elevatortip) at (1245,1019);
    \draw[->, line width=2.3pt] (fairstart) -- (fairtip);
    \draw[->, line width=2.3pt] (sessionstart) -- (sessiontip);
    \draw[->, line width=2.3pt] (stairsstart) -- (stairstip);
    \draw[->, line width=2.3pt] (elevatorstart) -- (elevatortip);

\end{tikzpicture}
\end{document}
